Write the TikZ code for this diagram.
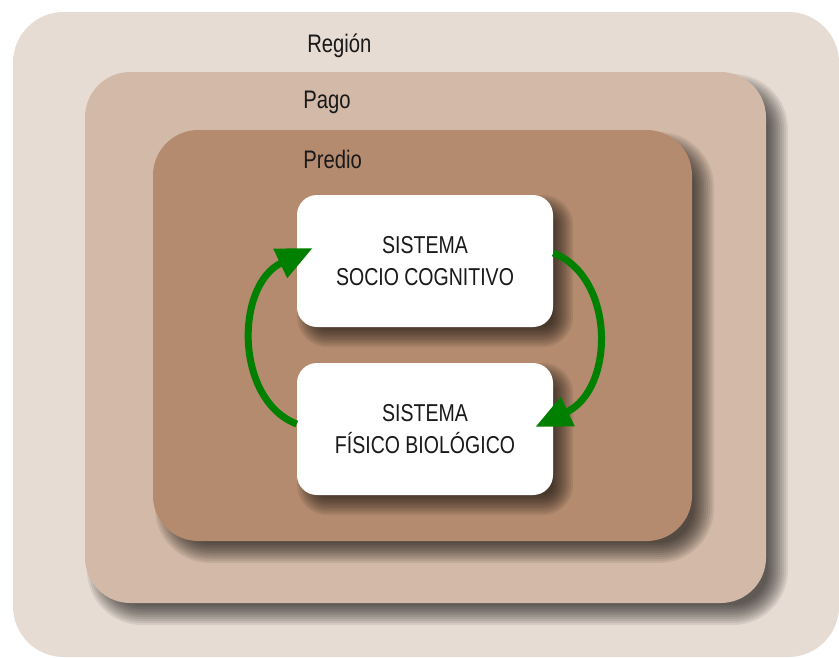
\documentclass[tikz,border=0pt]{standalone}
\usepackage{fontspec}
\setmainfont{Liberation Sans}[FakeStretch=0.8]
\usetikzlibrary{arrows.meta}

\definecolor{regioncol}{RGB}{231,220,211}
\definecolor{pagocol}{RGB}{211,185,167}
\definecolor{prediocol}{RGB}{180,139,111}
\definecolor{flowcol}{RGB}{0,128,0}

% soft shadow: x1, y1, x2, y2, corner radius, offset (all in px)
\newcommand{\softshadow}[6]{%
  \foreach \e in {10,8,...,-10}
    \fill[black, fill opacity=0.075, rounded corners={max(1,#5+\e)*0.75pt}] (#1+#6-\e, #2+#6-\e) rectangle (#3+#6+\e, #4+#6+\e);
}

\tikzset{
  zonelabel/.style={anchor=base west, inner sep=0pt, text=black!90, font=\fontsize{19}{23}\selectfont},
  sysbox/.style={rectangle, rounded corners=15pt, fill=white, minimum width=192pt, minimum height=99pt, inner sep=0pt, align=center, text=black!90, font=\fontsize{18.3}{24}\selectfont},
  flow/.style={draw=flowcol, line width=5.25pt, -{Triangle[length=27pt, width=23pt]}}
}

\begin{document}
\begin{tikzpicture}[x=0.75pt, y=-0.75pt]
\useasboundingbox (0,0) rectangle (839,657);
\fill[white] (0,0) rectangle (839,657);

\fill[regioncol, rounded corners=38pt] (13,12) rectangle (839,657);
\softshadow{85}{72}{766}{603}{45}{12}
\fill[pagocol, rounded corners=34pt] (85,72) rectangle (766,603);
\softshadow{153}{130}{692}{541}{45}{12}
\fill[prediocol, rounded corners=34pt] (153,130) rectangle (692,541);

\node[zonelabel] (region) at (307,52) {Región};
\node[zonelabel] (pago) at (303,108) {Pago};
\node[zonelabel] (predio) at (303,168) {Predio};

\softshadow{297}{195}{553}{327}{20}{10}
\softshadow{297}{363}{553}{495}{20}{10}
\node[sysbox] (socio) at (425,261) {SISTEMA\\SOCIO COGNITIVO};
\node[sysbox] (fisico) at (425,429) {SISTEMA\\FÍSICO BIOLÓGICO};

\draw[flow] ([shift={(0,-5)}]fisico.west) .. controls +(-62,-24) and +(-78,37) .. ([shift={(16,-13)}]socio.west);
\draw[flow] ([shift={(0,-8)}]socio.east) .. controls +(62,24) and +(80,-38) .. ([shift={(-18,-2)}]fisico.east);

\end{tikzpicture}
\end{document}
